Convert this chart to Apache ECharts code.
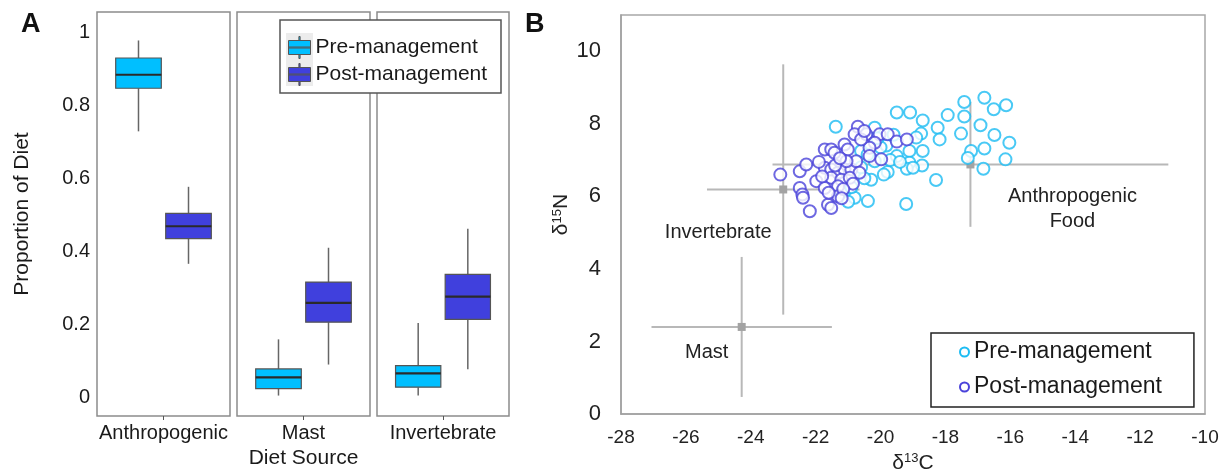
<!DOCTYPE html>
<html>
<head>
<meta charset="utf-8">
<script src="https://cdn.jsdelivr.net/npm/echarts@6/dist/echarts.min.js"></script>
<style>
html,body{margin:0;padding:0;background:#fff;}
#chart{width:1225px;height:473px;}
</style>
</head>
<body>
<div id="chart"></div>
<script>
// ---------- Panel A data ----------
const dietSources = ['Anthropogenic', 'Mast', 'Invertebrate'];
// [min, Q1, median, Q3, max]
const preBox = [
  [0.730, 0.848, 0.885, 0.931, 0.979],
  [0.006, 0.025, 0.056, 0.079, 0.160],
  [0.006, 0.029, 0.067, 0.088, 0.205]
];
const postBox = [
  [0.367, 0.436, 0.470, 0.505, 0.578],
  [0.091, 0.207, 0.260, 0.317, 0.411],
  [0.078, 0.215, 0.277, 0.338, 0.463]
];
const proportionTicks = [0, 0.2, 0.4, 0.6, 0.8, 1];

// ---------- Panel B data ----------
const carbonTicks = [-28, -26, -24, -22, -20, -18, -16, -14, -12, -10];
const nitrogenTicks = [0, 2, 4, 6, 8, 10];
const preManagement = [
  [-19.50, 8.31], [-19.09, 8.31], [-18.70, 8.09], [-17.93, 8.24], [-17.42, 8.60],
  [-16.80, 8.72], [-16.51, 8.40], [-16.13, 8.51], [-17.42, 8.20], [-16.92, 7.96],
  [-18.24, 7.89], [-18.75, 7.73], [-17.52, 7.73], [-16.49, 7.69], [-18.18, 7.57],
  [-16.03, 7.48], [-18.90, 7.62], [-19.82, 7.40], [-19.11, 7.25], [-18.70, 7.25],
  [-19.50, 7.11], [-17.21, 7.25], [-17.31, 7.06], [-16.80, 7.32], [-16.15, 7.02],
  [-19.11, 6.93], [-18.72, 6.85], [-19.19, 6.76], [-19.00, 6.79], [-16.83, 6.76],
  [-19.78, 6.67], [-18.29, 6.45], [-19.21, 5.79],
  [-21.38, 7.92], [-20.18, 7.89], [-20.60, 7.25], [-20.29, 6.46], [-20.80, 5.96],
  [-20.39, 5.87], [-20.18, 6.97],
  [-21.20, 6.10], [-20.90, 6.25], [-21.00, 5.85], [-20.50, 6.50], [-20.60, 6.80],
  [-20.40, 7.15], [-20.00, 7.35], [-19.70, 7.00], [-19.40, 6.95], [-19.90, 6.60],
  [-19.60, 7.70], [-20.10, 7.60]
];
const postManagement = [
  [-23.09, 6.60], [-22.49, 6.69], [-22.29, 6.88], [-22.49, 6.23], [-22.41, 6.05],
  [-22.39, 5.96], [-22.18, 5.59], [-21.98, 6.42], [-21.72, 7.29], [-21.52, 7.29],
  [-21.42, 7.20], [-21.11, 7.43], [-21.01, 7.29], [-20.70, 7.92], [-20.80, 7.71],
  [-20.44, 7.71], [-20.03, 7.71], [-19.78, 7.71], [-20.18, 7.48], [-20.34, 7.34],
  [-19.98, 7.02], [-20.34, 7.11], [-21.72, 6.79], [-21.52, 6.74], [-21.31, 6.65],
  [-21.11, 6.74], [-20.90, 6.74], [-20.75, 6.97], [-20.65, 6.65], [-21.52, 6.51],
  [-21.21, 6.46], [-20.95, 6.51], [-21.72, 6.23], [-21.31, 6.28], [-21.62, 5.77],
  [-21.52, 5.68], [-21.31, 6.00], [-21.05, 6.97], [-20.60, 7.57], [-19.50, 7.51],
  [-19.19, 7.57],
  [-21.80, 6.55], [-21.40, 6.85], [-20.85, 6.35], [-21.60, 6.10], [-21.15, 6.20],
  [-21.90, 6.95], [-21.25, 7.05], [-20.50, 7.80], [-21.20, 5.95]
];
const sourceNames = ['Mast', 'Invertebrate', 'Anthropogenic\nFood'];
const sourceC13 = [-24.28, -23.00, -17.23];
const sourceN15 = [2.40, 6.19, 6.88];
const sourceC13Err = [2.78, 2.35, 6.10];
const sourceN15Err = [1.93, 3.45, 1.72];

// ---------- styles ----------
const FONT = 'Liberation Sans, Arial, sans-serif';
const PRE_BOX = '#00BFFF';
const POST_BOX = '#4040DD';
const PRE_PT = '#1CBCF3';
const POST_PT = '#4A42DA';
const labelOffsets = [[-35, 26], [-65, 43], [102, 45]];

function boxRender(side, fill) {
  return function (params, api) {
    const band = api.size([1, 0])[0];
    const cx = api.coord([0, 0])[0] + side * band * 0.188;
    const w = band * 0.343;
    const yMin = api.coord([0, api.value(1)])[1];
    const yQ1 = api.coord([0, api.value(2)])[1];
    const yMed = api.coord([0, api.value(3)])[1];
    const yQ3 = api.coord([0, api.value(4)])[1];
    const yMax = api.coord([0, api.value(5)])[1];
    return {
      type: 'group',
      children: [
        { type: 'line', shape: { x1: cx, y1: yMax, x2: cx, y2: yQ3 }, style: { stroke: '#666', lineWidth: 1.5 } },
        { type: 'line', shape: { x1: cx, y1: yQ1, x2: cx, y2: yMin }, style: { stroke: '#666', lineWidth: 1.5 } },
        { type: 'rect', shape: { x: cx - w / 2, y: yQ3, width: w, height: yQ1 - yQ3 }, style: { fill: fill, stroke: '#555', lineWidth: 1.2 } },
        { type: 'line', shape: { x1: cx - w / 2, y1: yMed, x2: cx + w / 2, y2: yMed }, style: { stroke: '#2a2a2a', lineWidth: 2.2 } }
      ]
    };
  };
}

const boxIcon = 'path://M0,4L22,4L22,18L0,18Z M10.4,0L11.6,0L11.6,4L10.4,4Z M10.4,18L11.6,18L11.6,22L10.4,22Z M0,10.5L22,10.5L22,11.5L0,11.5Z';

const gridsA = [
  { left: 97, top: 12, width: 133, height: 404 },
  { left: 237, top: 12, width: 133, height: 404 },
  { left: 377, top: 12, width: 132, height: 404 }
];

const grid = gridsA.map(g => Object.assign({ show: true, borderColor: '#8c8c8c', borderWidth: 1.5, backgroundColor: 'transparent', outerBoundsMode: 'none' }, g));
grid.push({ left: 621, top: 15, width: 584, height: 399, show: true, borderColor: '#a8a8a8', borderWidth: 1.5, outerBoundsMode: 'none' });

const xAxis = dietSources.map((name, i) => ({
  gridIndex: i,
  type: 'category',
  data: [name],
  axisLine: { show: false, onZero: false },
  axisTick: { show: true, alignWithLabel: true, length: 4, lineStyle: { color: '#555', width: 1 } },
  axisLabel: { fontSize: 20, fontFamily: FONT, color: '#1a1a1a', margin: 7 },
  name: i === 1 ? 'Diet Source' : '',
  nameLocation: 'middle',
  nameGap: 29,
  nameTextStyle: { fontSize: 21, fontFamily: FONT, color: '#1a1a1a' }
}));
xAxis.push({
  gridIndex: 3,
  type: 'value',
  min: -28, max: -10, interval: 2,
  axisLine: { show: true, onZero: false, lineStyle: { color: '#a0a0a0', width: 1.5 } },
  axisTick: { show: false },
  splitLine: { show: false },
  axisLabel: { fontSize: 19, fontFamily: FONT, color: '#222', margin: 14, customValues: carbonTicks },
  name: 'δ{sup|13}C',
  nameLocation: 'middle',
  nameGap: 36,
  nameTextStyle: { fontSize: 21, fontFamily: FONT, color: '#222', lineHeight: 22,
    rich: { sup: { fontSize: 13, fontFamily: FONT, color: '#222', lineHeight: 13, verticalAlign: 'top' } } }
});

const yAxis = dietSources.map((name, i) => ({
  gridIndex: i,
  type: 'value',
  min: -0.05, max: 1.057,
  show: i === 0,
  axisLine: { show: false },
  axisTick: { show: false },
  splitLine: { show: false },
  axisLabel: { fontSize: 20, fontFamily: FONT, color: '#1a1a1a', margin: 7,
    customValues: proportionTicks, formatter: v => String(+v.toFixed(2)) },
  name: i === 0 ? 'Proportion of Diet' : '',
  nameLocation: 'middle',
  nameGap: 64,
  nameTextStyle: { fontSize: 21, fontFamily: FONT, color: '#1a1a1a' }
}));
yAxis.push({
  gridIndex: 3,
  type: 'value',
  min: 0, max: 11,
  axisLine: { show: true, onZero: false, lineStyle: { color: '#a0a0a0', width: 1.5 } },
  axisTick: { show: false },
  splitLine: { show: false },
  axisLabel: { fontSize: 22, fontFamily: FONT, color: '#222', margin: 20, customValues: nitrogenTicks },
  name: 'δ{sup|15}N',
  nameLocation: 'middle',
  nameGap: 41,
  nameTextStyle: { fontSize: 21, fontFamily: FONT, color: '#222', lineHeight: 22,
    rich: { sup: { fontSize: 13, fontFamily: FONT, color: '#222', lineHeight: 13, verticalAlign: 'top' } } }
});

const series = [];
dietSources.forEach((name, i) => {
  series.push({
    name: 'Pre-management', type: 'custom', xAxisIndex: i, yAxisIndex: i,
    itemStyle: { color: PRE_BOX },
    renderItem: boxRender(-1, PRE_BOX),
    encode: { x: 0, y: [1, 2, 3, 4, 5] },
    data: [[0].concat(preBox[i])], z: 2
  });
  series.push({
    name: 'Post-management', type: 'custom', xAxisIndex: i, yAxisIndex: i,
    itemStyle: { color: POST_BOX },
    renderItem: boxRender(1, POST_BOX),
    encode: { x: 0, y: [1, 2, 3, 4, 5] },
    data: [[0].concat(postBox[i])], z: 2
  });
});

series.push({
  name: 'sources', type: 'custom', xAxisIndex: 3, yAxisIndex: 3, z: 1,
  data: sourceNames.map((n, i) => [sourceC13[i], sourceN15[i], sourceC13Err[i], sourceN15Err[i]]),
  encode: { x: 0, y: 1 },
  renderItem: function (params, api) {
    const i = params.dataIndex;
    const x = api.value(0), y = api.value(1), ex = api.value(2), ey = api.value(3);
    const c = api.coord([x, y]);
    const l = api.coord([x - ex, y]);
    const r = api.coord([x + ex, y]);
    const t = api.coord([x, y + ey]);
    const b = api.coord([x, y - ey]);
    const off = labelOffsets[i];
    return {
      type: 'group',
      children: [
        { type: 'line', shape: { x1: l[0], y1: l[1], x2: r[0], y2: r[1] }, style: { stroke: '#b8b8b8', lineWidth: 2 } },
        { type: 'line', shape: { x1: t[0], y1: t[1], x2: b[0], y2: b[1] }, style: { stroke: '#b8b8b8', lineWidth: 2 } },
        { type: 'rect', shape: { x: c[0] - 4, y: c[1] - 4, width: 8, height: 8 }, style: { fill: '#a3a3a3' } },
        { type: 'text', x: c[0] + off[0], y: c[1] + off[1],
          style: { text: sourceNames[i], font: '20px ' + FONT, fill: '#222', align: 'center', verticalAlign: 'middle', lineHeight: 25 } }
      ]
    };
  }
});

series.push({
  name: 'Pre-management', type: 'scatter', xAxisIndex: 3, yAxisIndex: 3, z: 3,
  symbol: 'emptyCircle', symbolSize: 12,
  itemStyle: { color: PRE_PT, borderColor: PRE_PT, borderWidth: 2.6 },
  data: preManagement
});
series.push({
  name: 'Post-management', type: 'scatter', xAxisIndex: 3, yAxisIndex: 3, z: 4,
  symbol: 'emptyCircle', symbolSize: 12,
  itemStyle: { color: POST_PT, borderColor: POST_PT, borderWidth: 2.6 },
  data: postManagement
});

const option = {
  animation: false,
  backgroundColor: '#fff',
  title: [
    { text: 'A', left: 21, top: 11, padding: 0, textStyle: { fontSize: 27, fontWeight: 'bold', fontFamily: FONT, color: '#111' } },
    { text: 'B', left: 525, top: 11, padding: 0, textStyle: { fontSize: 27, fontWeight: 'bold', fontFamily: FONT, color: '#111' } }
  ],
  graphic: [
    { type: 'rect', z: 5, shape: { x: 280, y: 20, width: 221, height: 73 }, style: { fill: '#fff', stroke: '#555', lineWidth: 1.5 } },
    { type: 'rect', z: 5, shape: { x: 286, y: 33, width: 27, height: 53 }, style: { fill: '#ececec' } }
  ],
  legend: [
    {
      z: 6, left: 288, top: 36, orient: 'vertical', padding: 0, itemGap: 4,
      itemWidth: 22, itemHeight: 22, selectedMode: false,
      textStyle: { fontSize: 21, fontFamily: FONT, color: '#1a1a1a' },
      data: [
        { name: 'Pre-management', icon: boxIcon, itemStyle: { color: PRE_BOX, borderColor: '#555', borderWidth: 1 } },
        { name: 'Post-management', icon: boxIcon, itemStyle: { color: POST_BOX, borderColor: '#555', borderWidth: 1 } }
      ]
    },
    {
      z: 6, left: 931, top: 333, orient: 'vertical', padding: [7, 32, 8, 28], itemGap: 11,
      itemWidth: 9, itemHeight: 9, selectedMode: false,
      borderColor: '#222', borderWidth: 1.5, backgroundColor: '#fff',
      textStyle: { fontSize: 23, fontFamily: FONT, color: '#1a1a1a', lineHeight: 24 },
      data: [
        { name: 'Pre-management', icon: 'emptyCircle', itemStyle: { color: PRE_PT, borderColor: PRE_PT, borderWidth: 2 } },
        { name: 'Post-management', icon: 'emptyCircle', itemStyle: { color: POST_PT, borderColor: POST_PT, borderWidth: 2 } }
      ]
    }
  ],
  grid: grid,
  xAxis: xAxis,
  yAxis: yAxis,
  series: series
};

const chart = echarts.init(document.getElementById('chart'), null, { renderer: 'canvas' });
chart.setOption(option);
</script>
</body>
</html>
